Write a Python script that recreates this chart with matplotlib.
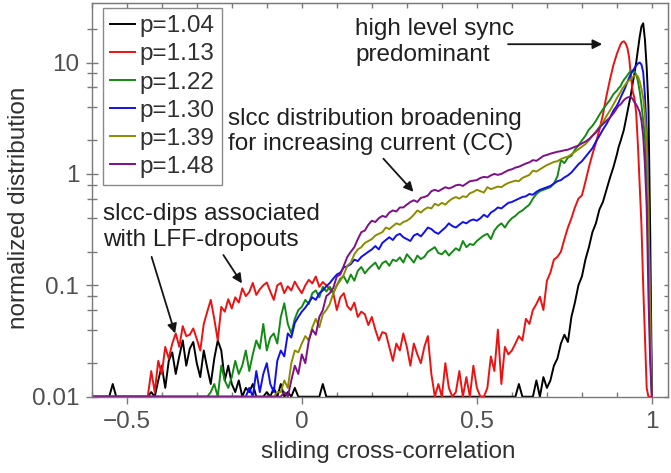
import numpy as np
import matplotlib.pyplot as plt
from matplotlib.ticker import LogLocator, MultipleLocator, FixedLocator, NullFormatter

plt.rcParams['font.family'] = ['Liberation Sans', 'DejaVu Sans']
plt.rcParams['font.size'] = 17.5

# --- data: sliding cross-correlation grid (coarse 0.01, fine 0.005 near the peak) ---
x_coarse = np.round(np.arange(-0.60, 0.9001, 0.01), 3)
x_fine = np.round(np.arange(0.905, 1.0001, 0.005), 3)
slcc = np.concatenate([x_coarse, x_fine])

labels = ['p=1.04', 'p=1.13', 'p=1.22', 'p=1.30', 'p=1.39', 'p=1.48']
colors = ['black', '#ee1111', '#138a13', '#1010ee', '#8c8c00', '#7f0f8a']

p104 = [
    0.01, 0.01, 0.01, 0.01, 0.01, 0.01, 0.013, 0.01, 0.01, 0.01,          # -0.60
    0.01, 0.01, 0.01, 0.01, 0.01, 0.01, 0.01, 0.011, 0.01, 0.014,          # -0.50
    0.019, 0.012, 0.021, 0.025, 0.016, 0.023, 0.032, 0.019, 0.027, 0.031, # -0.40
    0.02, 0.015, 0.026, 0.018, 0.013, 0.022, 0.032, 0.026, 0.014, 0.019,  # -0.30
    0.013, 0.011, 0.014, 0.01, 0.012, 0.011, 0.013, 0.01, 0.01, 0.01,     # -0.20
    0.011, 0.01, 0.012, 0.01, 0.013, 0.01, 0.011, 0.01, 0.012, 0.01,      # -0.10
    0.01, 0.01, 0.01, 0.01, 0.01, 0.01, 0.013, 0.01, 0.01, 0.01,          # 0.00
    0.01, 0.01, 0.01, 0.01, 0.01, 0.01, 0.01, 0.01, 0.01, 0.01,           # 0.10
    0.01, 0.01, 0.01, 0.01, 0.01, 0.01, 0.01, 0.01, 0.01, 0.01,           # 0.20
    0.01, 0.01, 0.01, 0.01, 0.01, 0.01, 0.01, 0.01, 0.01, 0.01,           # 0.30
    0.01, 0.01, 0.01, 0.01, 0.01, 0.01, 0.01, 0.01, 0.01, 0.01,           # 0.40
    0.01, 0.01, 0.01, 0.01, 0.01, 0.01, 0.01, 0.01, 0.01, 0.01,           # 0.50
    0.01, 0.01, 0.013, 0.01, 0.01, 0.01, 0.01, 0.014, 0.01, 0.015,        # 0.60
    0.012, 0.014, 0.019, 0.022, 0.03, 0.036, 0.031, 0.052, 0.07, 0.1,     # 0.70
    0.12, 0.17, 0.22, 0.3, 0.36, 0.48, 0.56, 0.72, 0.92, 1.15,            # 0.80
    1.5, 1.75, 1.95, 2.2, 2.5, 3.0, 3.6, 4.3, 5.2, 6.5, 8.0,              # 0.90 .. 0.95
    10, 13, 17, 21, 22.5, 16, 9, 4.0, 0.3, 0.01,                          # 0.955 .. 1.00
]

p113 = [
    0.01, 0.01, 0.01, 0.01, 0.01, 0.01, 0.01, 0.01, 0.01, 0.01,
    0.01, 0.01, 0.01, 0.01, 0.01, 0.01, 0.01, 0.017, 0.011, 0.021,
    0.016, 0.028, 0.022, 0.03, 0.037, 0.028, 0.043, 0.035, 0.036, 0.041,
    0.033, 0.026, 0.045, 0.058, 0.074, 0.05, 0.032, 0.064, 0.058, 0.075,
    0.062, 0.078, 0.07, 0.094, 0.08, 0.087, 0.105, 0.082, 0.092, 0.1,
    0.106, 0.088, 0.074, 0.1, 0.105, 0.085, 0.098, 0.09, 0.108, 0.095,
    0.085, 0.1, 0.112, 0.104, 0.12, 0.097, 0.107, 0.1, 0.092, 0.085,
    0.06, 0.078, 0.085, 0.065, 0.06, 0.07, 0.052, 0.058, 0.055, 0.044,
    0.052, 0.04, 0.032, 0.038, 0.037, 0.028, 0.021, 0.03, 0.026, 0.037,
    0.028, 0.019, 0.03, 0.024, 0.02, 0.028, 0.035, 0.016, 0.01, 0.013,
    0.01, 0.02, 0.012, 0.01, 0.011, 0.017, 0.01, 0.015, 0.01, 0.019,
    0.012, 0.01, 0.01, 0.012, 0.023, 0.017, 0.04, 0.013, 0.028, 0.024,
    0.026, 0.03, 0.035, 0.032, 0.05, 0.045, 0.06, 0.068, 0.079, 0.06,
    0.11, 0.13, 0.17, 0.18, 0.2, 0.26, 0.33, 0.4, 0.5, 0.6,
    0.64, 0.85, 1.15, 1.5, 1.9, 2.5, 3.4, 5.0, 7.0, 9.5,
    12, 13.2, 14.5, 15.3, 15.5, 14.8, 13.5, 11, 7.5, 5.5, 4.8,
    3.5, 1.8, 0.8, 0.35, 0.1, 0.035, 0.012, 0.01, 0.01, 0.01,
]

p122 = [
    0.01, 0.01, 0.01, 0.01, 0.01, 0.01, 0.01, 0.01, 0.01, 0.01,
    0.01, 0.01, 0.01, 0.01, 0.01, 0.01, 0.01, 0.01, 0.01, 0.01,
    0.01, 0.01, 0.01, 0.01, 0.01, 0.01, 0.01, 0.01, 0.01, 0.01,
    0.01, 0.01, 0.01, 0.01, 0.011, 0.013, 0.01, 0.019, 0.014, 0.012,
    0.015, 0.021, 0.016, 0.019, 0.026, 0.017, 0.024, 0.032, 0.027, 0.045,
    0.026, 0.034, 0.037, 0.03, 0.052, 0.069, 0.045, 0.037, 0.05, 0.06,
    0.064, 0.074, 0.068, 0.085, 0.09, 0.078, 0.097, 0.088, 0.097, 0.085,
    0.1, 0.115, 0.12, 0.105, 0.125, 0.11, 0.135, 0.146, 0.128, 0.14,
    0.15, 0.16, 0.14, 0.158, 0.165, 0.15, 0.17, 0.165, 0.178, 0.16,
    0.19, 0.175, 0.16, 0.185, 0.172, 0.18, 0.2, 0.21, 0.22, 0.195,
    0.19, 0.205, 0.185, 0.2, 0.215, 0.205, 0.25, 0.22, 0.235, 0.23,
    0.25, 0.265, 0.28, 0.29, 0.26, 0.31, 0.34, 0.36, 0.33, 0.37,
    0.4, 0.42, 0.45, 0.47, 0.5, 0.53, 0.6, 0.66, 0.7, 0.72,
    0.74, 0.76, 0.82, 0.95, 1.33, 1.25, 1.4, 1.45, 1.65, 1.8,
    2.0, 2.2, 2.5, 2.7, 3.0, 3.4, 3.8, 4.2, 4.6, 5.2,
    5.6, 5.9, 6.1, 6.6, 7.0, 7.3, 7.7, 8.1, 8.4, 8.5, 8.3,
    7.8, 6.8, 5.5, 4.2, 3.0, 2.2, 1.0, 0.3, 0.03, 0.01,
]

p130 = [
    0.01, 0.01, 0.01, 0.01, 0.01, 0.01, 0.01, 0.01, 0.01, 0.01,
    0.01, 0.01, 0.01, 0.01, 0.01, 0.01, 0.01, 0.01, 0.01, 0.01,
    0.01, 0.01, 0.01, 0.01, 0.01, 0.01, 0.01, 0.01, 0.01, 0.01,
    0.01, 0.01, 0.01, 0.01, 0.01, 0.01, 0.01, 0.01, 0.01, 0.01,
    0.01, 0.01, 0.01, 0.01, 0.01, 0.012, 0.01, 0.017, 0.011, 0.016,
    0.02, 0.013, 0.011, 0.021, 0.026, 0.023, 0.037, 0.034, 0.046, 0.052,
    0.058, 0.063, 0.07, 0.078, 0.074, 0.085, 0.09, 0.098, 0.105, 0.115,
    0.125, 0.13, 0.145, 0.148, 0.155, 0.17, 0.165, 0.18, 0.19, 0.2,
    0.21, 0.225, 0.21, 0.24, 0.255, 0.27, 0.255, 0.28, 0.29, 0.27,
    0.26, 0.25, 0.28, 0.29, 0.275, 0.3, 0.33, 0.32, 0.3, 0.29,
    0.31, 0.33, 0.36, 0.34, 0.33, 0.35, 0.37, 0.36, 0.38, 0.39,
    0.38, 0.4, 0.43, 0.41, 0.45, 0.47, 0.5, 0.49, 0.52, 0.55,
    0.56, 0.58, 0.6, 0.62, 0.63, 0.66, 0.65, 0.69, 0.72, 0.74,
    0.76, 0.78, 0.82, 0.86, 0.88, 0.93, 0.97, 1.03, 1.12, 1.22,
    1.3, 1.42, 1.55, 1.7, 1.95, 2.2, 2.5, 2.8, 3.2, 3.7,
    4.1, 4.4, 4.8, 5.2, 5.6, 6.1, 6.7, 7.3, 7.9, 8.4, 8.9,
    9.4, 9.8, 10.0, 9.6, 8.2, 5.0, 2.4, 0.6, 0.08, 0.01,
]

p139 = [
    0.01, 0.01, 0.01, 0.01, 0.01, 0.01, 0.01, 0.01, 0.01, 0.01,
    0.01, 0.01, 0.01, 0.01, 0.01, 0.01, 0.01, 0.01, 0.01, 0.01,
    0.01, 0.01, 0.01, 0.01, 0.01, 0.01, 0.01, 0.01, 0.01, 0.01,
    0.01, 0.01, 0.01, 0.01, 0.01, 0.01, 0.01, 0.01, 0.01, 0.01,
    0.01, 0.01, 0.01, 0.01, 0.01, 0.01, 0.01, 0.01, 0.01, 0.01,
    0.01, 0.01, 0.01, 0.011, 0.011, 0.014, 0.012, 0.02, 0.026, 0.025,
    0.03, 0.035, 0.032, 0.042, 0.05, 0.042, 0.055, 0.06, 0.068, 0.085,
    0.1, 0.11, 0.125, 0.15, 0.16, 0.19, 0.21, 0.22, 0.24, 0.25,
    0.26, 0.28, 0.29, 0.3, 0.33, 0.32, 0.34, 0.36, 0.35, 0.37,
    0.38, 0.4, 0.43, 0.47, 0.45, 0.48, 0.5, 0.49, 0.54, 0.52,
    0.55, 0.53, 0.57, 0.6, 0.62, 0.6, 0.63, 0.62, 0.67, 0.69,
    0.72, 0.7, 0.68, 0.76, 0.73, 0.75, 0.77, 0.76, 0.8, 0.83,
    0.85, 0.87, 0.86, 0.92, 0.95, 0.98, 1.07, 1.05, 1.1, 1.15,
    1.2, 1.24, 1.28, 1.3, 1.36, 1.4, 1.43, 1.5, 1.58, 1.66,
    1.75, 1.85, 2.0, 2.2, 2.4, 2.65, 2.9, 3.3, 3.7, 4.2,
    4.8, 5.1, 5.4, 5.8, 6.1, 6.4, 6.7, 6.9, 7.1, 7.4, 7.6,
    7.7, 7.5, 6.8, 5.8, 4.8, 3.4, 1.9, 0.5, 0.06, 0.01,
]

p148 = [
    0.01, 0.01, 0.01, 0.01, 0.01, 0.01, 0.01, 0.01, 0.01, 0.01,
    0.01, 0.01, 0.01, 0.01, 0.01, 0.01, 0.01, 0.01, 0.01, 0.01,
    0.01, 0.01, 0.01, 0.01, 0.01, 0.01, 0.01, 0.01, 0.01, 0.01,
    0.01, 0.01, 0.01, 0.01, 0.01, 0.01, 0.01, 0.01, 0.01, 0.01,
    0.01, 0.01, 0.01, 0.01, 0.01, 0.01, 0.01, 0.01, 0.01, 0.01,
    0.01, 0.01, 0.01, 0.01, 0.01, 0.011, 0.01, 0.014, 0.019, 0.016,
    0.024, 0.02, 0.032, 0.04, 0.036, 0.052, 0.06, 0.08, 0.085, 0.095,
    0.12, 0.125, 0.15, 0.18, 0.2, 0.22, 0.26, 0.3, 0.31, 0.35,
    0.38, 0.37, 0.4, 0.42, 0.41, 0.45, 0.47, 0.46, 0.5, 0.5,
    0.53, 0.56, 0.58, 0.56, 0.61, 0.62, 0.64, 0.7, 0.72, 0.7,
    0.73, 0.76, 0.74, 0.76, 0.79, 0.8, 0.78, 0.82, 0.86, 0.87,
    0.88, 0.92, 0.94, 0.93, 0.97, 1.0, 0.98, 1.0, 1.04, 1.08,
    1.1, 1.14, 1.16, 1.2, 1.24, 1.27, 1.33, 1.31, 1.38, 1.45,
    1.48, 1.52, 1.55, 1.58, 1.6, 1.63, 1.65, 1.7, 1.75, 1.8,
    1.88, 1.95, 2.05, 2.2, 2.35, 2.6, 2.8, 3.0, 3.2, 3.5,
    3.9, 4.1, 4.2, 4.4, 4.6, 4.75, 4.85, 4.9, 4.9, 4.7, 4.4,
    4.2, 3.9, 3.6, 3.0, 2.2, 1.2, 0.5, 0.08, 0.02, 0.01,
]

series = [p104, p113, p122, p130, p139, p148]

# --- figure ---
fig = plt.figure(figsize=(6.71, 4.73), dpi=100)
ax = fig.add_axes([0.1367, 0.1613, 0.8589, 0.8317])

for y, lab, col in zip(series, labels, colors):
    ax.plot(slcc, y, color=col, lw=1.4, label=lab)

ax.set_yscale('log')
ax.set_xlim(-0.60, 1.046)
ax.set_ylim(0.01, 34)

gray = '#7a7a7a'
for sp in ax.spines.values():
    sp.set_color(gray)
    sp.set_linewidth(1.0)

ax.xaxis.set_major_locator(FixedLocator([-0.5, 0, 0.5, 1]))
ax.xaxis.set_minor_locator(MultipleLocator(0.1))
ax.set_xticklabels(['\u22120.5', '0', '0.5', '1'])
ax.yaxis.set_major_locator(LogLocator(base=10))
ax.yaxis.set_minor_locator(LogLocator(base=10, subs=(2, 4, 6, 8)))
ax.yaxis.set_minor_formatter(NullFormatter())
ax.set_yticks([0.01, 0.1, 1, 10])
ax.set_yticklabels(['0.01', '0.1', '1', '10'])

ax.tick_params(axis='x', which='major', direction='out', length=5, width=1,
               color=gray, labelcolor='#505050', pad=5, top=False)
ax.tick_params(axis='x', which='minor', direction='in', length=3.6, width=1,
               color=gray, top=False)
ax.tick_params(axis='y', which='major', direction='inout', length=8, width=1,
               color=gray, labelcolor='#505050', pad=5, right=False)
ax.tick_params(axis='y', which='minor', direction='inout', length=6.5, width=1,
               color=gray, right=False)

# top and right ticks point inward only
top = ax.secondary_xaxis('top')
top.xaxis.set_major_locator(MultipleLocator(0.1))
top.tick_params(direction='in', length=3.6, width=1, color=gray, labeltop=False)
top.spines['top'].set_color(gray)
right = ax.secondary_yaxis('right')
right.set_yscale('log')
right.yaxis.set_major_locator(LogLocator(base=10))
right.yaxis.set_minor_locator(LogLocator(base=10, subs=(2, 4, 6, 8)))
right.tick_params(which='both', direction='in', length=3, width=1, color=gray,
                  labelright=False)
right.spines['right'].set_color(gray)

ax.set_xlabel('sliding cross-correlation', color='#303030')
ax.set_ylabel('normalized distribution', color='#303030')
ax.xaxis.set_label_coords(0.514, -0.113)
ax.yaxis.set_label_coords(-0.107, 0.481)

leg = ax.legend(loc='upper left', bbox_to_anchor=(0.0196, 0.988), borderaxespad=0,
                handlelength=1.0, handletextpad=0.2, labelspacing=0.25,
                borderpad=0.3, fancybox=False, edgecolor='#8a8a8a',
                framealpha=1, fontsize=17.5)
leg.get_frame().set_linewidth(1.0)
for t in leg.get_texts():
    t.set_color('#303030')

# annotations
tc = '#202020'
ax.text(0.457, 0.962, 'high level sync\npredominant', transform=ax.transAxes,
        ha='left', va='top', color=tc)
ax.text(0.237, 0.734, 'slcc distribution broadening\nfor increasing current (CC)',
        transform=ax.transAxes, ha='left', va='top', color=tc)
ax.text(0.0197, 0.492, 'slcc-dips associated\nwith LFF-dropouts',
        transform=ax.transAxes, ha='left', va='top', color=tc)

arrow = dict(arrowstyle='-|>', color='#151515', lw=1.3, mutation_scale=14,
             shrinkA=0, shrinkB=0)
ax.annotate('', xy=(0.858, 14.6), xytext=(0.589, 14.6), arrowprops=arrow)
ax.annotate('', xy=(0.319, 0.69), xytext=(0.233, 1.37), arrowprops=arrow)
ax.annotate('', xy=(-0.362, 0.037), xytext=(-0.429, 0.18), arrowprops=arrow)
ax.annotate('', xy=(-0.171, 0.104), xytext=(-0.224, 0.187), arrowprops=arrow)

fig.savefig('out.png', dpi=100)
